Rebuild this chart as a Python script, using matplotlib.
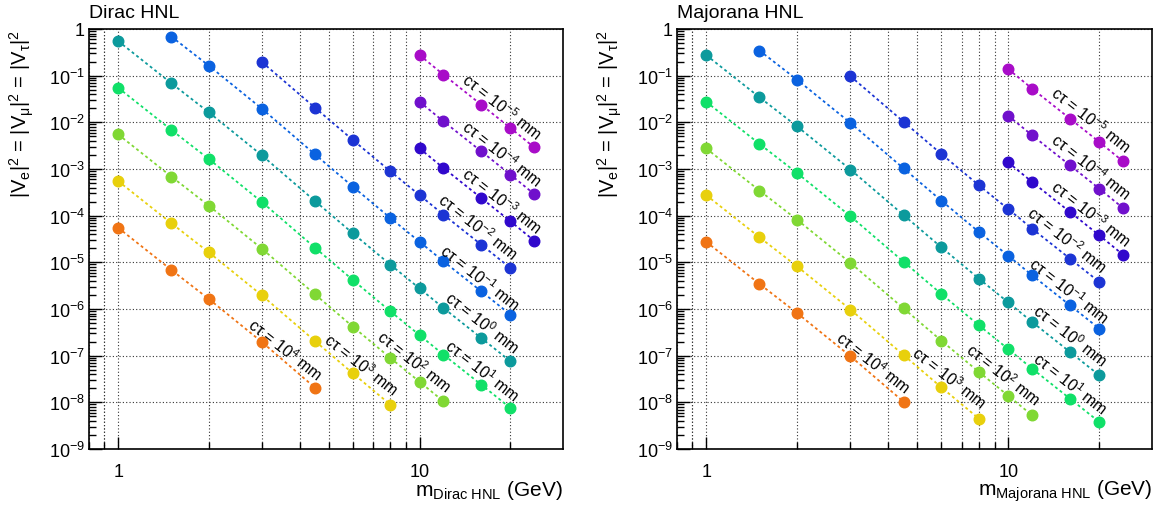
import matplotlib
matplotlib.use("Agg")
import matplotlib.pyplot as plt
from matplotlib.ticker import LogLocator, FuncFormatter, NullFormatter
import math

plt.rcParams['font.family'] = ['Liberation Sans', 'DejaVu Sans']
plt.rcParams['mathtext.fontset'] = 'custom'
plt.rcParams['mathtext.rm'] = 'Liberation Sans'
plt.rcParams['mathtext.it'] = 'Liberation Sans:italic'
plt.rcParams['mathtext.bf'] = 'Liberation Sans:bold'
plt.rcParams['mathtext.sf'] = 'Liberation Sans'

# ---------------- data ----------------
ct_exponents = [4, 3, 2, 1, 0, -1, -2, -3, -4, -5]
series_colors = ['#f07414', '#e8d00c', '#80d834', '#10e068', '#0c9a9c',
                 '#0a62e0', '#1c34d4', '#3008cc', '#7010cc', '#a80cc8']

m_ct1e4 = [1, 1.5, 2, 3, 4.5]
m_ct1e3 = [1, 1.5, 2, 3, 4.5, 6, 8]
m_ct1e2 = [1, 1.5, 2, 3, 4.5, 6, 8, 10, 12]
m_ct1e1 = [1, 1.5, 2, 3, 4.5, 6, 8, 10, 12, 16, 20]
m_ct1e0 = [1, 1.5, 2, 3, 4.5, 6, 8, 10, 12, 16, 20]
m_ct1em1 = [1.5, 2, 3, 4.5, 6, 8, 10, 12, 16, 20]
m_ct1em2 = [3, 4.5, 6, 8, 10, 12, 16, 20]
m_ct1em3 = [10, 12, 16, 20, 24]
m_ct1em4 = [10, 12, 16, 20, 24]
m_ct1em5 = [10, 12, 16, 20, 24]

dirac_ct1e4 = [5.5e-5, 6.9e-6, 1.63e-6, 1.95e-7, 2.05e-8]
dirac_ct1e3 = [5.5e-4, 6.9e-5, 1.63e-5, 1.95e-6, 2.05e-7, 4.2e-8, 8.9e-9]
dirac_ct1e2 = [5.5e-3, 6.9e-4, 1.63e-4, 1.95e-5, 2.05e-6, 4.2e-7, 8.9e-8, 2.75e-8, 1.05e-8]
dirac_ct1e1 = [5.5e-2, 6.9e-3, 1.63e-3, 1.95e-4, 2.05e-5, 4.2e-6, 8.9e-7, 2.75e-7, 1.05e-7, 2.4e-8, 7.6e-9]
dirac_ct1e0 = [0.55, 6.9e-2, 1.63e-2, 1.95e-3, 2.05e-4, 4.2e-5, 8.9e-6, 2.75e-6, 1.05e-6, 2.4e-7, 7.6e-8]
dirac_ct1em1 = [0.69, 0.163, 1.95e-2, 2.05e-3, 4.2e-4, 8.9e-5, 2.75e-5, 1.05e-5, 2.4e-6, 7.6e-7]
dirac_ct1em2 = [0.195, 2.05e-2, 4.2e-3, 8.9e-4, 2.75e-4, 1.05e-4, 2.4e-5, 7.6e-6]
dirac_ct1em3 = [2.75e-3, 1.05e-3, 2.4e-4, 7.6e-5, 2.9e-5]
dirac_ct1em4 = [2.75e-2, 1.05e-2, 2.4e-3, 7.6e-4, 2.9e-4]
dirac_ct1em5 = [0.275, 0.105, 2.4e-2, 7.6e-3, 2.9e-3]

major_ct1e4 = [2.75e-5, 3.45e-6, 8.15e-7, 9.75e-8, 1.03e-8]
major_ct1e3 = [2.75e-4, 3.45e-5, 8.15e-6, 9.75e-7, 1.03e-7, 2.1e-8, 4.45e-9]
major_ct1e2 = [2.75e-3, 3.45e-4, 8.15e-5, 9.75e-6, 1.03e-6, 2.1e-7, 4.45e-8, 1.38e-8, 5.25e-9]
major_ct1e1 = [2.75e-2, 3.45e-3, 8.15e-4, 9.75e-5, 1.03e-5, 2.1e-6, 4.45e-7, 1.38e-7, 5.25e-8, 1.2e-8, 3.8e-9]
major_ct1e0 = [0.275, 3.45e-2, 8.15e-3, 9.75e-4, 1.03e-4, 2.1e-5, 4.45e-6, 1.38e-6, 5.25e-7, 1.2e-7, 3.8e-8]
major_ct1em1 = [0.345, 8.15e-2, 9.75e-3, 1.03e-3, 2.1e-4, 4.45e-5, 1.38e-5, 5.25e-6, 1.2e-6, 3.8e-7]
major_ct1em2 = [9.75e-2, 1.03e-2, 2.1e-3, 4.45e-4, 1.38e-4, 5.25e-5, 1.2e-5, 3.8e-6]
major_ct1em3 = [1.38e-3, 5.25e-4, 1.2e-4, 3.8e-5, 1.45e-5]
major_ct1em4 = [1.38e-2, 5.25e-3, 1.2e-3, 3.8e-4, 1.45e-4]
major_ct1em5 = [0.138, 5.25e-2, 1.2e-2, 3.8e-3, 1.45e-3]

masses_all = [m_ct1e4, m_ct1e3, m_ct1e2, m_ct1e1, m_ct1e0,
              m_ct1em1, m_ct1em2, m_ct1em3, m_ct1em4, m_ct1em5]
dirac_all = [dirac_ct1e4, dirac_ct1e3, dirac_ct1e2, dirac_ct1e1, dirac_ct1e0,
             dirac_ct1em1, dirac_ct1em2, dirac_ct1em3, dirac_ct1em4, dirac_ct1em5]
major_all = [major_ct1e4, major_ct1e3, major_ct1e2, major_ct1e1, major_ct1e0,
             major_ct1em1, major_ct1em2, major_ct1em3, major_ct1em4, major_ct1em5]

# label positions (axes fraction), same order as ct_exponents
lab_fx = [0.414, 0.574, 0.686, 0.829, 0.829, 0.825, 0.821, 0.871, 0.871, 0.871]
lab_fy_dirac = [0.238, 0.202, 0.210, 0.188, 0.302, 0.410, 0.531, 0.593, 0.705, 0.817]
lab_fy_major = [0.207, 0.171, 0.179, 0.157, 0.271, 0.379, 0.500, 0.562, 0.674, 0.786]

panel_titles = ['Dirac HNL', 'Majorana HNL']
xlabels = [r'm$_{\mathrm{Dirac\ HNL}}$ (GeV)', r'm$_{\mathrm{Majorana\ HNL}}$ (GeV)']
ylabel = r'|V$_{\mathrm{e}}$|$^{2}$ = |V$_{\mathrm{μ}}$|$^{2}$ = |V$_{\mathrm{τ}}$|$^{2}$'

# ---------------- figure ----------------
W, H = 1162, 510
fig = plt.figure(figsize=(W / 100, H / 100), dpi=100)
axes_px = [(89, 474), (677, 475)]
top_px, bot_px = 30, 450


def yfmt(v, pos):
    if v <= 0:
        return ''
    e = int(round(math.log10(v)))
    if e == 0:
        return '1'
    return r'10$^{%d}$' % e


def xfmt(v, pos):
    e = int(round(math.log10(v)))
    return '%d' % (10 ** e) if e >= 0 else ''


for i in range(2):
    x0, w = axes_px[i]
    ax = fig.add_axes([x0 / W, (H - bot_px) / H, w / W, (bot_px - top_px) / H])
    ax.set_xscale('log')
    ax.set_yscale('log')
    ax.set_xlim(0.8, 29.9)
    ax.set_ylim(1e-9, 1)

    data = dirac_all if i == 0 else major_all
    lab_fy = lab_fy_dirac if i == 0 else lab_fy_major
    for k, e in enumerate(ct_exponents):
        ax.plot(masses_all[k], data[k], color=series_colors[k], lw=1.3,
                ls=(0, (1.6, 1.6)), marker='o', ms=7.6, mec=series_colors[k],
                mfc=series_colors[k], zorder=3)
        ax.text(lab_fx[k], lab_fy[k], r'cτ = 10$^{%d}$ mm' % e,
                transform=ax.transAxes, rotation=-38, ha='center', va='center',
                fontsize=11.5, rotation_mode='anchor', zorder=4)

    ax.xaxis.set_major_locator(LogLocator(base=10, numticks=10))
    ax.xaxis.set_minor_locator(LogLocator(base=10, subs=[2, 3, 4, 5, 6, 7, 8, 9], numticks=10))
    ax.xaxis.set_major_formatter(FuncFormatter(xfmt))
    ax.xaxis.set_minor_formatter(NullFormatter())
    ax.yaxis.set_major_locator(LogLocator(base=10, numticks=20))
    ax.yaxis.set_minor_locator(LogLocator(base=10, subs=[2, 3, 4, 5, 6, 7, 8, 9], numticks=20))
    ax.yaxis.set_major_formatter(FuncFormatter(yfmt))
    ax.yaxis.set_minor_formatter(NullFormatter())

    ax.grid(True, which='major', axis='both', color='#333333', ls=(0, (1, 2)), lw=0.8)
    ax.grid(True, which='minor', axis='x', color='#333333', ls=(0, (1, 2)), lw=0.8)
    # extra 0.9 grid line as in ROOT
    ax.axvline(0.9, color='#333333', ls=(0, (1, 2)), lw=0.8, zorder=0.5)

    ax.tick_params(which='major', direction='in', length=9, width=1.0,
                   labelsize=13, top=False, right=False)
    ax.tick_params(which='minor', direction='in', length=5, width=1.0,
                   top=False, right=False)
    ax.tick_params(axis='x', which='major', pad=10)
    ax.tick_params(axis='y', which='major', pad=3)
    for s in ax.spines.values():
        s.set_linewidth(1.2)

    ax.set_xlabel(xlabels[i], fontsize=15, loc='right')
    ax.xaxis.set_label_coords(1.0, -0.068)
    ax.set_ylabel(ylabel, fontsize=14.5, loc='top')
    ax.yaxis.set_label_coords(-0.112, 1.0)

    fig.text(x0 / W, 1 - 13 / H, panel_titles[i], fontsize=14, ha='left', va='center')

fig.savefig('out.png', dpi=100)
